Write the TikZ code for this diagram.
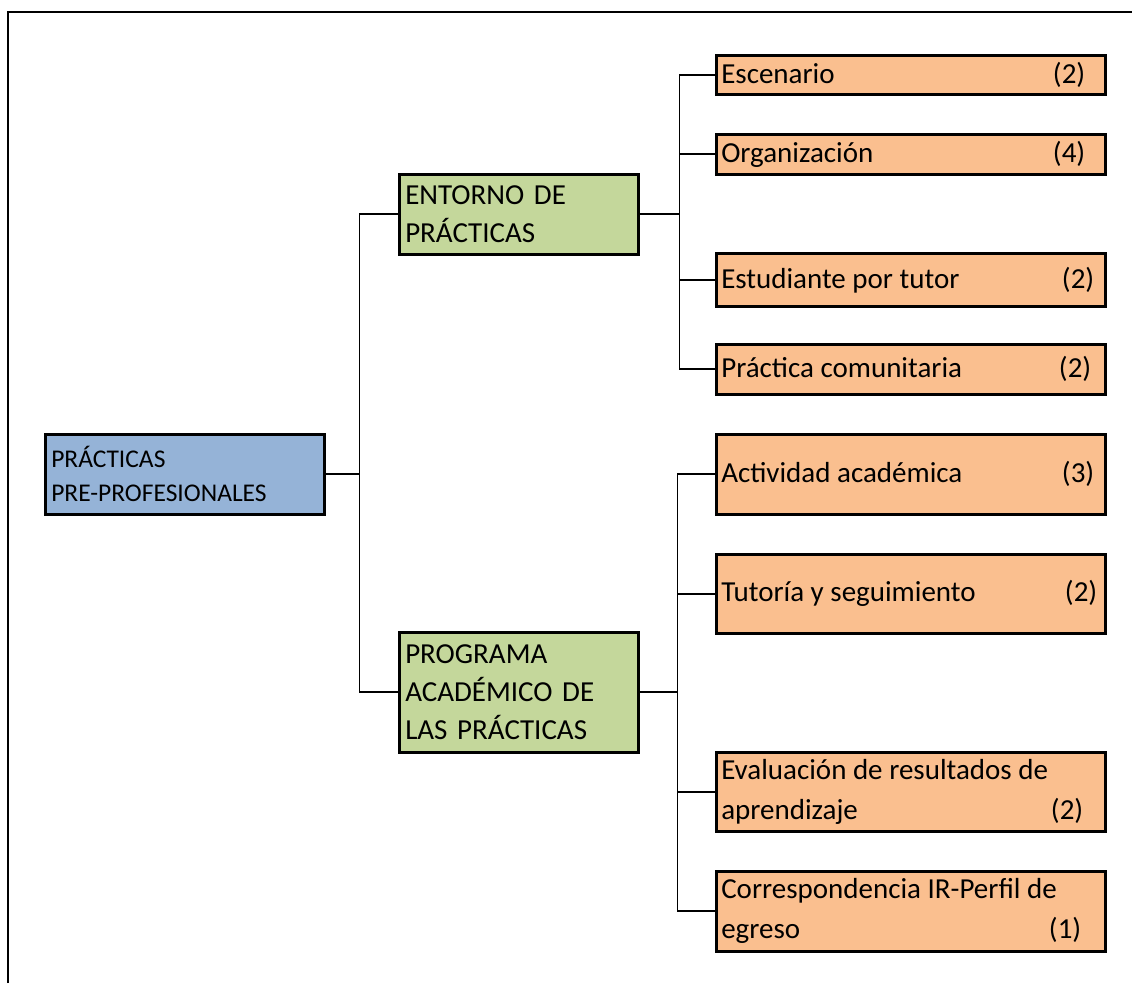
\documentclass[tikz,border=0pt]{standalone}
\usepackage{fontspec}
\setmainfont{Carlito}
\usepackage{tikz}
\usetikzlibrary{positioning}
\definecolor{rootblue}{HTML}{95B3D7}
\definecolor{groupgreen}{HTML}{C4D79B}
\definecolor{itemorange}{HTML}{FABF8F}
\newcommand{\weight}[2]{\hspace*{\fill}(#1)\hspace*{#2pt}\null}

\begin{document}
\begin{tikzpicture}[x=1pt,y=-1pt,-,
                    box node/.style={draw,line width=2.5pt,anchor=north west,inner ysep=2pt},
                    root node/.style={box node,fill=rootblue,align=left,inner xsep=6pt,text width=267pt,minimum height=80pt,font=\fontsize{25.5}{34}\selectfont},
                    group node/.style={box node,fill=groupgreen,align=left,inner xsep=6pt,text width=227pt,font=\fontsize{29}{38}\selectfont},
                    item node/.style={box node,fill=itemorange,align=justify,inner xsep=5pt,text width=379pt,font=\fontsize{29}{40}\selectfont},
                    link/.style={line width=1.8pt}]

 \useasboundingbox (0,0) rectangle (1132,983);

 \draw[link] (8,983) -- (8,12) -- (1132,12);

 \node[root node] (1) at (44,433) {PRÁCTICAS\\PRE-PROFESIONALES};

 \node[group node,minimum height=80pt] (2) at (398,173) {ENTORNO DE\\PRÁCTICAS};

 \node[group node,minimum height=120pt] (3) at (398,631) {PROGRAMA\\ACADÉMICO DE\\LAS PRÁCTICAS};

 \node[item node,minimum height=39pt] (4) at (715,54) {Escenario\weight{2}{15}};

 \node[item node,minimum height=40pt] (5) at (715,133) {Organización\weight{4}{15}};

 \node[item node,minimum height=53pt] (6) at (715,252) {Estudiante por tutor\weight{2}{6}};

 \node[item node,minimum height=50pt] (7) at (715,343) {Práctica comunitaria\weight{2}{9}};

 \node[item node,minimum height=80pt] (8) at (715,433) {Actividad académica\weight{3}{6}};

 \node[item node,minimum height=79pt] (9) at (715,553) {Tutoría y seguimiento\weight{2}{3}};

 \node[item node,minimum height=79pt] (10) at (715,751) {Evaluación de resultados de\\aprendizaje\weight{2}{17}};

 \node[item node,minimum height=80pt] (11) at (715,870) {Correspondencia IR-Perfil de\\egreso\weight{1}{19}};

 \draw[link] (1.east) -- ++(34,0) coordinate (j1);
 \draw[link] (j1) |- (2.west);
 \draw[link] (j1) |- (3.west);

 \draw[link] (2.east) -- ++(40,0) coordinate (j2);
 \foreach \n in {4,...,7}
   \draw[link] (j2) |- (\n.west);

 \draw[link] (3.east) -- ++(38,0) coordinate (j3);
 \foreach \n in {8,...,11}
   \draw[link] (j3) |- (\n.west);

\end{tikzpicture}
\end{document}
